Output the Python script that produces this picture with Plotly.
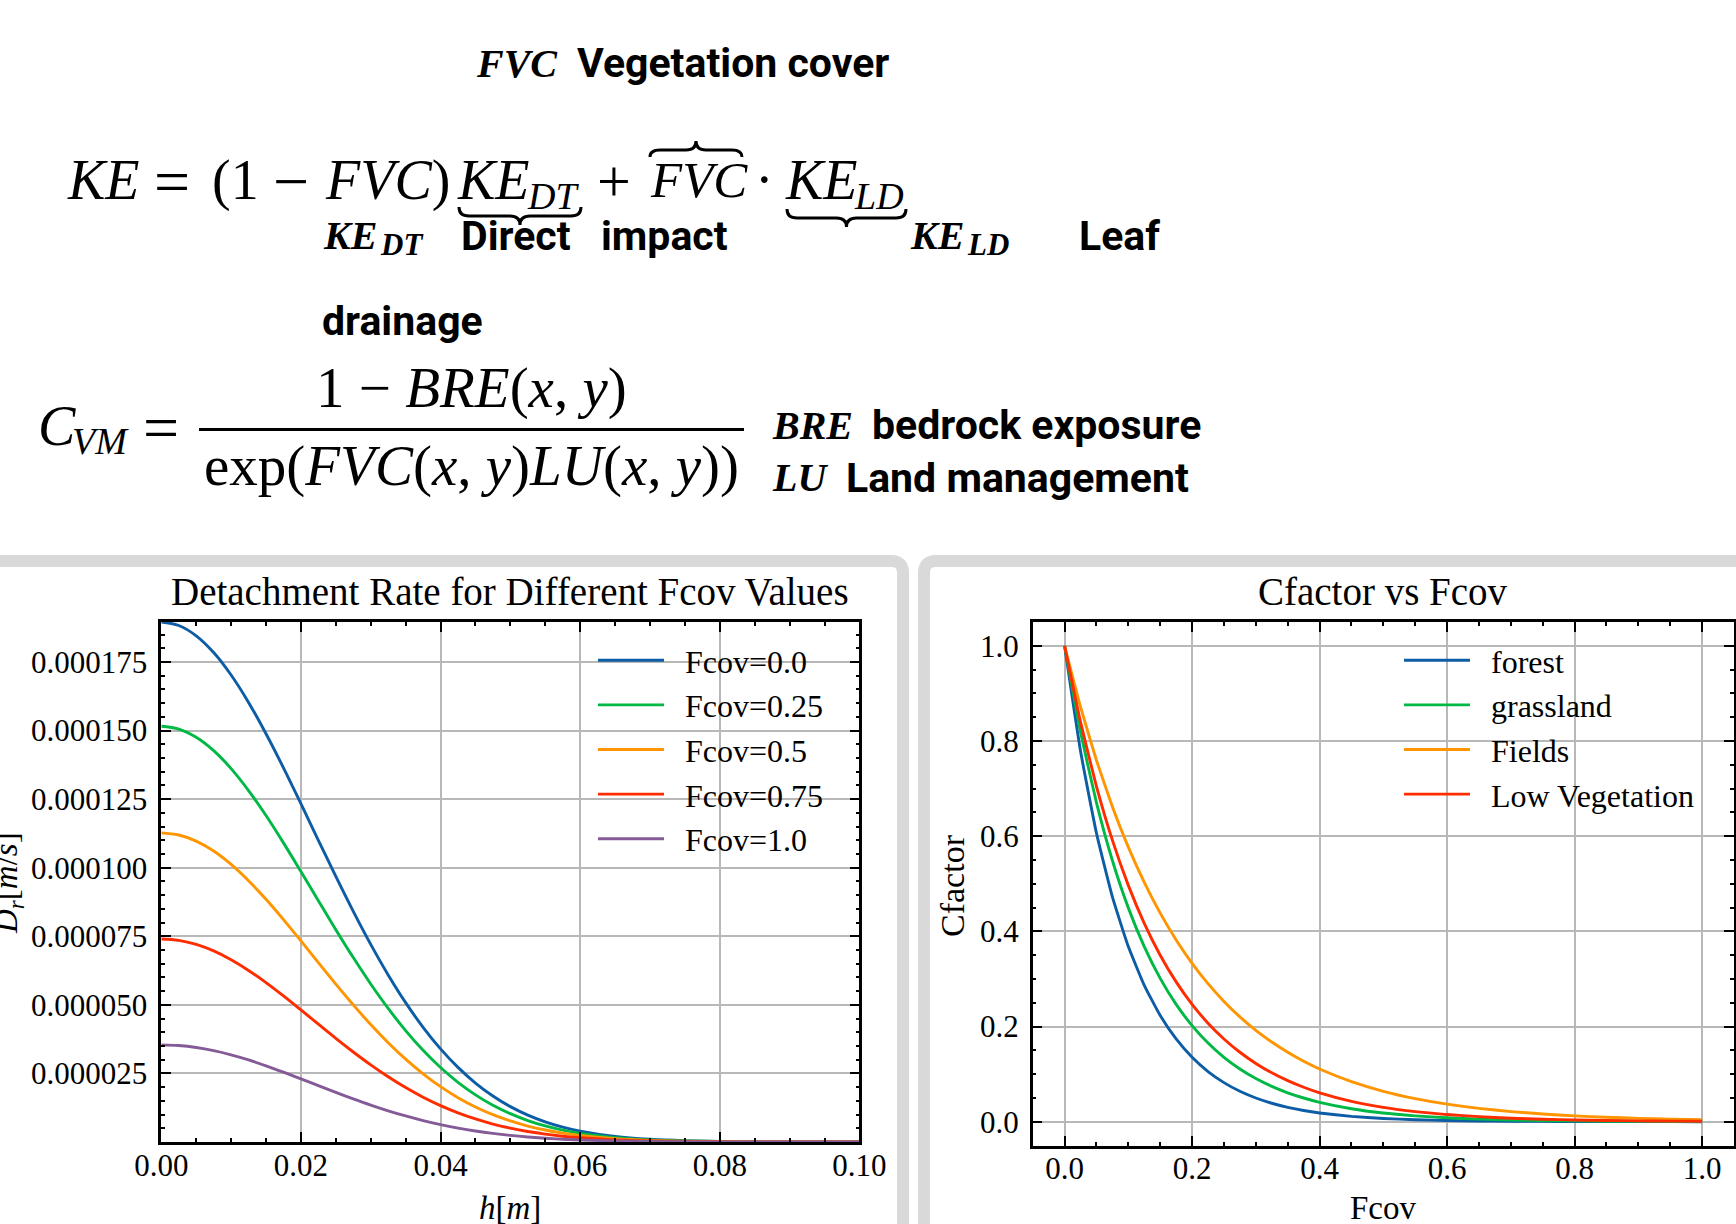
import plotly.graph_objects as go

W, H = 1736, 1224

# ---------------- data: detachment rate (left panel) ----------------
h_m = [0.0, 0.0025, 0.005, 0.0075, 0.01, 0.0125, 0.015, 0.0175, 0.02, 0.0225, 0.025,
       0.0275, 0.03, 0.0325, 0.035, 0.0375, 0.04, 0.0425, 0.045, 0.0475, 0.05,
       0.0525, 0.055, 0.0575, 0.06, 0.065, 0.07, 0.075, 0.08, 0.085, 0.09, 0.095, 0.1]
fcov_names = ["Fcov=0.0", "Fcov=0.25", "Fcov=0.5", "Fcov=0.75", "Fcov=1.0"]
# detachment rate values, in 1e-6 m/s
dr_fcov_000 = [189.6, 188.33, 184.57, 178.47, 170.28, 160.29, 148.86, 136.42, 123.34, 110.02, 96.84,
               84.10, 72.06, 60.92, 50.81, 41.81, 33.95, 27.20, 21.50, 16.77, 12.90,
               9.79, 7.34, 5.42, 3.96, 2.02, 0.98, 0.45, 0.20, 0.08, 0.03, 0.01, 0.0]
dr_fcov_025 = [151.6, 150.58, 147.58, 142.70, 136.15, 128.16, 119.03, 109.07, 98.62, 87.97, 77.43,
               67.24, 57.62, 48.71, 40.62, 33.43, 27.15, 21.75, 17.19, 13.41, 10.32,
               7.83, 5.87, 4.34, 3.16, 1.61, 0.78, 0.36, 0.16, 0.06, 0.03, 0.01, 0.0]
dr_fcov_050 = [112.7, 111.94, 109.71, 106.09, 101.22, 95.28, 88.49, 81.09, 73.31, 65.40, 57.56,
               49.99, 42.83, 36.21, 30.20, 24.85, 20.18, 16.17, 12.78, 9.97, 7.67,
               5.82, 4.36, 3.22, 2.35, 1.20, 0.58, 0.27, 0.12, 0.05, 0.02, 0.01, 0.0]
dr_fcov_075 = [74.0, 73.50, 72.04, 69.66, 66.46, 62.56, 58.10, 53.24, 48.14, 42.94, 37.80,
               32.82, 28.12, 23.78, 19.83, 16.32, 13.25, 10.62, 8.39, 6.54, 5.04,
               3.82, 2.86, 2.12, 1.54, 0.79, 0.38, 0.18, 0.08, 0.03, 0.01, 0.0, 0.0]
dr_fcov_100 = [35.4, 35.16, 34.46, 33.32, 31.79, 29.93, 27.79, 25.47, 23.03, 20.54, 18.08,
               15.70, 13.45, 11.37, 9.49, 7.81, 6.34, 5.08, 4.01, 3.13, 2.41,
               1.83, 1.37, 1.01, 0.74, 0.38, 0.18, 0.08, 0.04, 0.01, 0.01, 0.0, 0.0]
dr_ticks = [0.000025, 0.000050, 0.000075, 0.000100, 0.000125, 0.000150, 0.000175]
dr_ticktext = ["0.000025", "0.000050", "0.000075", "0.000100", "0.000125", "0.000150", "0.000175"]

# ---------------- data: Cfactor vs Fcov (right panel) ----------------
fcov = [0.0, 0.025, 0.05, 0.075, 0.1, 0.125, 0.15, 0.175, 0.2, 0.225, 0.25, 0.275, 0.3,
        0.325, 0.35, 0.375, 0.4, 0.45, 0.5, 0.55, 0.6, 0.65, 0.7, 0.75, 0.8, 0.85, 0.9, 0.95, 1.0]
landuse_names = ["forest", "grassland", "Fields", "Low Vegetation"]
c_forest = [1.0, 0.7788, 0.6065, 0.4724, 0.3679, 0.2865, 0.2231, 0.1738, 0.1353, 0.1054, 0.0821,
            0.0639, 0.0498, 0.0388, 0.0302, 0.0235, 0.0183, 0.0111, 0.0067, 0.0041, 0.0025,
            0.0015, 0.0009, 0.0006, 0.0003, 0.0002, 0.0001, 0.0001, 0.0]
c_grassland = [1.0, 0.8187, 0.6703, 0.5488, 0.4493, 0.3679, 0.3012, 0.2466, 0.2019, 0.1653, 0.1353,
               0.1108, 0.0907, 0.0743, 0.0608, 0.0498, 0.0408, 0.0273, 0.0183, 0.0123, 0.0082,
               0.0055, 0.0037, 0.0025, 0.0017, 0.0011, 0.0007, 0.0005, 0.0003]
c_fields = [1.0, 0.8715, 0.7596, 0.6620, 0.5769, 0.5028, 0.4382, 0.3820, 0.3329, 0.2901, 0.2528,
            0.2204, 0.1920, 0.1674, 0.1459, 0.1271, 0.1108, 0.0842, 0.0639, 0.0486, 0.0369,
            0.0280, 0.0213, 0.0162, 0.0123, 0.0093, 0.0071, 0.0054, 0.0041]
c_low_veg = [1.0, 0.8395, 0.7047, 0.5916, 0.4966, 0.4169, 0.3499, 0.2938, 0.2466, 0.2070, 0.1738,
             0.1459, 0.1225, 0.1028, 0.0863, 0.0724, 0.0608, 0.0429, 0.0302, 0.0213, 0.0150,
             0.0106, 0.0074, 0.0052, 0.0037, 0.0026, 0.0018, 0.0013, 0.0009]

COLORS5 = ["#0C5DA5", "#00B945", "#FF9500", "#FF2C00", "#845B97"]
SERIF = "Liberation Serif"
SANS = "Roboto"
GRAY = "#d9d9d9"
NB = "\u00a0\u00a0"   # small gap between legend line and label


def X(px):
    return px / W


def Y(py):
    return 1 - py / H


fig = go.Figure()

dr_series = [dr_fcov_000, dr_fcov_025, dr_fcov_050, dr_fcov_075, dr_fcov_100]
for i, (name, vals) in enumerate(zip(fcov_names, dr_series)):
    fig.add_trace(go.Scatter(
        x=h_m, y=[v * 1e-6 for v in vals], mode="lines", name=NB + name,
        line=dict(color=COLORS5[i], width=2.9, shape="spline", smoothing=1.0),
        xaxis="x", yaxis="y", legend="legend", legendgroup="a%d" % i))

c_series = [c_forest, c_grassland, c_fields, c_low_veg]
for i, (name, vals) in enumerate(zip(landuse_names, c_series)):
    fig.add_trace(go.Scatter(
        x=fcov, y=vals, mode="lines", name=NB + name,
        line=dict(color=COLORS5[i], width=2.9, shape="spline", smoothing=0.4),
        xaxis="x2", yaxis="y2", legend="legend2", legendgroup="b%d" % i))

axis_common = dict(
    showline=True, linecolor="black", linewidth=2.5, mirror="ticks",
    ticks="inside", ticklen=10, tickwidth=2, tickcolor="black",
    showgrid=True, gridcolor="#b8b8b8", gridwidth=1.6, zeroline=False,
    tickfont=dict(family=SERIF, size=31, color="black"),
    automargin=False,
)
minor_common = dict(ticks="inside", ticklen=4, tickwidth=1.5, tickcolor="black", showgrid=False)

legend_common = dict(xanchor="left", yanchor="top",
                     font=dict(family=SERIF, size=32, color="black"),
                     bgcolor="rgba(0,0,0,0)", itemwidth=66, tracegroupgap=0)

fig.update_layout(
    width=W, height=H, margin=dict(l=0, r=0, t=0, b=0, pad=0, autoexpand=False),
    paper_bgcolor="white", plot_bgcolor="white",
    font=dict(family=SERIF, color="black"),
    xaxis=dict(domain=[X(161.3), X(859.4)], range=[0, 0.1], dtick=0.02, tick0=0,
               tickformat=".2f", anchor="y", ticklabelstandoff=-6,
               minor=dict(dtick=0.005, tick0=0, **minor_common), **axis_common),
    yaxis=dict(domain=[Y(1142), Y(622)], range=[0, 0.0001896], tickvals=dr_ticks,
               ticktext=dr_ticktext, anchor="x", ticklabelstandoff=5,
               minor=dict(dtick=0.000005, tick0=0, **minor_common), **axis_common),
    xaxis2=dict(domain=[X(1032.7), X(1734)], range=[-0.05, 1.05], dtick=0.2, tick0=0,
                tickformat=".1f", anchor="y2", ticklabelstandoff=-6,
                minor=dict(dtick=0.05, tick0=0, **minor_common), **axis_common),
    yaxis2=dict(domain=[Y(1145.5), Y(622)], range=[-0.05, 1.05], dtick=0.2, tick0=0,
                tickformat=".1f", anchor="x2", ticklabelstandoff=5,
                minor=dict(dtick=0.05, tick0=0, **minor_common), **axis_common),
    legend=dict(x=X(593), y=Y(633), **legend_common),
    legend2=dict(x=X(1399), y=Y(633), **legend_common),
)

# ---------------- gray panel frames and equation strokes ----------------
shapes = []
shapes.append(dict(
    type="path", xref="paper", yref="paper", layer="below",
    path="M %f %f L %f %f Q %f %f %f %f L %f %f" % (
        X(-20), Y(561), X(891), Y(561), X(903), Y(561), X(903), Y(573), X(903), Y(1250)),
    line=dict(color=GRAY, width=12)))
shapes.append(dict(
    type="path", xref="paper", yref="paper", layer="below",
    path="M %f %f L %f %f Q %f %f %f %f L %f %f" % (
        X(924), Y(1250), X(924), Y(573), X(924), Y(561), X(936), Y(561), X(1760), Y(561)),
    line=dict(color=GRAY, width=12)))


def brace(x0, x1, y_end, y_mid, y_tip):
    xm = (x0 + x1) / 2
    r = 10
    return ("M %f %f Q %f %f %f %f L %f %f Q %f %f %f %f Q %f %f %f %f L %f %f Q %f %f %f %f" % (
        X(x0), Y(y_end),
        X(x0), Y(y_mid), X(x0 + r), Y(y_mid),
        X(xm - r), Y(y_mid),
        X(xm), Y(y_mid), X(xm), Y(y_tip),
        X(xm), Y(y_mid), X(xm + r), Y(y_mid),
        X(x1 - r), Y(y_mid),
        X(x1), Y(y_mid), X(x1), Y(y_end)))


shapes.append(dict(type="path", xref="paper", yref="paper", path=brace(459, 581, 207, 216, 225),
                   line=dict(color="black", width=3)))
shapes.append(dict(type="path", xref="paper", yref="paper", path=brace(787, 906, 209, 218, 227),
                   line=dict(color="black", width=3)))
shapes.append(dict(type="path", xref="paper", yref="paper", path=brace(650, 742, 157, 150, 141),
                   line=dict(color="black", width=3)))
shapes.append(dict(type="line", xref="paper", yref="paper", x0=X(199), x1=X(744), y0=Y(429.6), y1=Y(429.6),
                   line=dict(color="black", width=3)))
fig.update_layout(shapes=shapes)

# ---------------- text ----------------
ann = []


def txt(x, y, text, size, family=SERIF, weight="normal", xanchor="left", angle=0):
    ann.append(dict(x=X(x), y=Y(y), xref="paper", yref="paper", text=text,
                    showarrow=False, xanchor=xanchor, yanchor="middle", textangle=angle,
                    font=dict(family=family, size=size, color="black", weight=weight)))


M = 56
S = 38
B = 40
T = 41
# heading
txt(474, 63, "<i>FVC</i>", B, weight="bold")
txt(575, 63, "Vegetation cover", T, family=SANS, weight="bold")
# KE equation
txt(65, 180, "<i>KE</i>", M)
txt(152, 181, "=", 64)
txt(210, 180, "(1", M)
txt(271, 181, "−", 64)
txt(323, 180, "<i>FVC</i>)", M)
txt(455, 180, "<i>KE</i>", M)
txt(525, 196, "<i>DT</i>", S)
txt(595, 181, "+", 60)
txt(648, 180, "<i>FVC</i>", 51)
txt(764, 180, "·", M, xanchor="center")
txt(783, 180, "<i>KE</i>", M)
txt(852, 196, "<i>LD</i>", S)
# second line labels
txt(321, 236, "<i>KE</i>", B, weight="bold")
txt(378, 245, "<i>DT</i>", 31, weight="bold")
txt(459, 236, "Direct", T, family=SANS, weight="bold")
txt(599, 236, "impact", T, family=SANS, weight="bold")
txt(908, 236, "<i>KE</i>", B, weight="bold")
txt(965, 245, "<i>LD</i>", 31, weight="bold")
txt(1077, 236, "Leaf", T, family=SANS, weight="bold")
txt(320, 321, "drainage", T, family=SANS, weight="bold")
# C_VM equation
txt(36, 426, "<i>C</i>", M)
txt(70, 441, "<i>VM</i>", S)
txt(141, 427, "=", 64)
txt(471, 388, "1 − <i>BRE</i>(<i>x</i>, <i>y</i>)", 57, xanchor="center")
txt(471, 466, "exp(<i>FVC</i>(<i>x</i>, <i>y</i>)<i>LU</i>(<i>x</i>, <i>y</i>))", 57, xanchor="center")
txt(770, 425, "<i>BRE</i>", B, weight="bold")
txt(870, 425, "bedrock exposure", T, family=SANS, weight="bold")
txt(770, 478, "<i>LU</i>", B, weight="bold")
txt(844, 478, "Land management", T, family=SANS, weight="bold")

# plot titles and axis labels
txt(510, 591, "Detachment Rate for Different Fcov Values", 39, xanchor="center")
txt(1383, 591, "Cfactor vs Fcov", 39, xanchor="center")
txt(510, 1208, "<i>h</i>[<i>m</i>]", 33, xanchor="center")
txt(1383, 1208, "Fcov", 33, xanchor="center")
ann.append(dict(x=X(952), y=Y(885), xref="paper", yref="paper", text="Cfactor", showarrow=False,
                xanchor="center", yanchor="middle", textangle=-90,
                font=dict(family=SERIF, size=34, color="black")))
ann.append(dict(x=X(8), y=Y(883), xref="paper", yref="paper",
                text="<i>D<sub>r</sub></i>[<i>m</i>/<i>s</i>]", showarrow=False,
                xanchor="center", yanchor="middle", textangle=-90,
                font=dict(family=SERIF, size=33, color="black")))

fig.update_layout(annotations=ann)

fig.write_html("out.html", config={"displayModeBar": False},
               post_script="document.body.style.margin='0px';document.body.style.padding='0px';")
